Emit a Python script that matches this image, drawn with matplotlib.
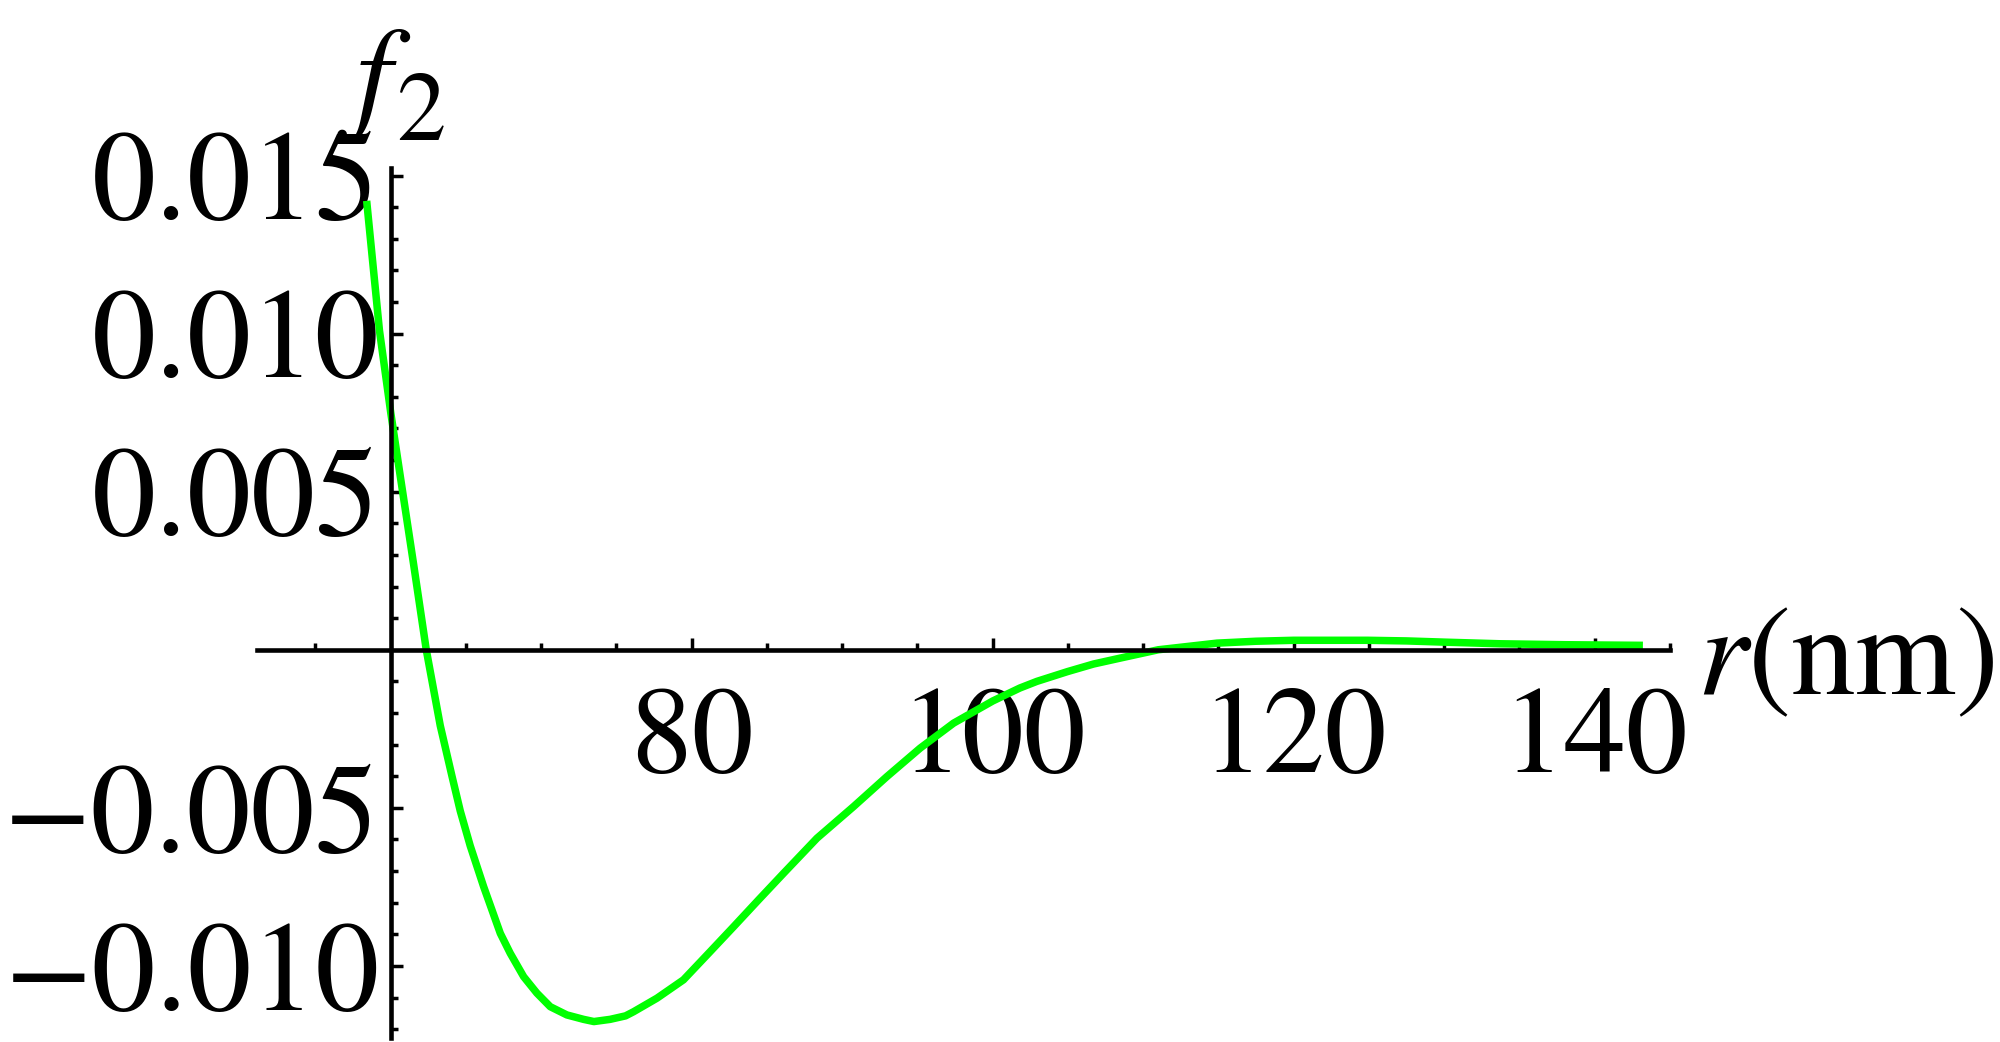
import numpy as np
import matplotlib
matplotlib.use("Agg")
import matplotlib.pyplot as plt
from matplotlib.ticker import FixedLocator

plt.rcParams['font.family'] = ['STIXGeneral', 'Liberation Serif', 'DejaVu Serif']
plt.rcParams['mathtext.fontset'] = 'stix'

# curve
r_nm = [58.4, 59.25, 60.0, 60.63, 61.52, 62.36, 63.29, 64.07, 64.62, 65.28,
        66.17, 67.28, 67.94, 68.83, 69.71, 70.6, 71.7, 72.81, 73.5, 74.58,
        75.6, 76.13, 77.69, 79.45, 81.12, 82.78, 84.44, 86.1, 88.32, 90.75,
        92.97, 95.18, 97.4, 100.0, 101.8, 102.93, 104.97, 106.7, 108.5, 111.0,
        114.9, 117.5, 120.0, 124.9, 127.5, 130.1, 133.7, 138.0, 140.5, 143.2]
f2 = [0.0142, 0.0101, 0.0075, 0.0055, 0.0027, 0.0, -0.0024, -0.0040, -0.0051, -0.0062,
      -0.00749, -0.00897, -0.0096, -0.01034, -0.01086, -0.01129, -0.01155, -0.01169, -0.01176, -0.01169,
      -0.01158, -0.01145, -0.01102, -0.01044, -0.0096, -0.00876, -0.00791, -0.00707, -0.00596, -0.00496,
      -0.00401, -0.00311, -0.00232, -0.00162, -0.00121, -0.0010, -0.00069, -0.00045, -0.00026, 0.0,
      0.00021, 0.00027, 0.00030, 0.00030, 0.00028, 0.00024, 0.00019, 0.00016, 0.00015, 0.00014]

x_major = [80, 100, 120, 140]
x_minor = [55, 65, 70, 75, 85, 90, 95, 105, 110, 115, 125, 130, 135, 145]
y_major = [-0.010, -0.005, 0.005, 0.010, 0.015]
y_labels = ["\u22120.010", "\u22120.005", "0.005", "0.010", "0.015"]
y_minor = [v / 1000 for v in range(-12, 16) if v % 5 != 0]

fig = plt.figure(figsize=(20, 10.42), dpi=100)
ax = fig.add_axes([0.1284, 0.00384, 0.835 - 0.1284, 0.8388 - 0.00384])
ax.set_xlim(51.1, 145.0)
ax.set_ylim(-0.01228, 0.01524)

ax.plot(r_nm, f2, color='#00ff00', lw=5.4, clip_on=False,
        solid_capstyle='butt', solid_joinstyle='round')

for s in ['top', 'right']:
    ax.spines[s].set_visible(False)
ax.spines['left'].set_position(('data', 60))
ax.spines['bottom'].set_position(('data', 0))
for s in ['left', 'bottom']:
    ax.spines[s].set_linewidth(3.3)

ax.xaxis.set_major_locator(FixedLocator(x_major))
ax.xaxis.set_minor_locator(FixedLocator(x_minor))
ax.set_xticklabels([str(v) for v in x_major])
ax.yaxis.set_major_locator(FixedLocator(y_major))
ax.yaxis.set_minor_locator(FixedLocator(y_minor))
ax.set_yticklabels(y_labels)

ax.tick_params(which='both', direction='in', width=2.5, colors='black')
ax.tick_params(which='major', length=8.6)
ax.tick_params(which='minor', length=5)
ax.tick_params(axis='x', which='major', pad=27, labelsize=89)
ax.tick_params(axis='y', which='major', pad=8, labelsize=92)

# axis labels, Mathematica style
fig.text(0.178, 0.8877, "f", fontsize=92, style='italic', ha='left', va='baseline')
fig.text(0.198, 0.8656, "2", fontsize=71, ha='left', va='baseline')
fig.text(0.8485, 0.362, r"$r$(nm)", fontsize=93, ha='left', va='center')

fig.savefig("out.png", dpi=100)
